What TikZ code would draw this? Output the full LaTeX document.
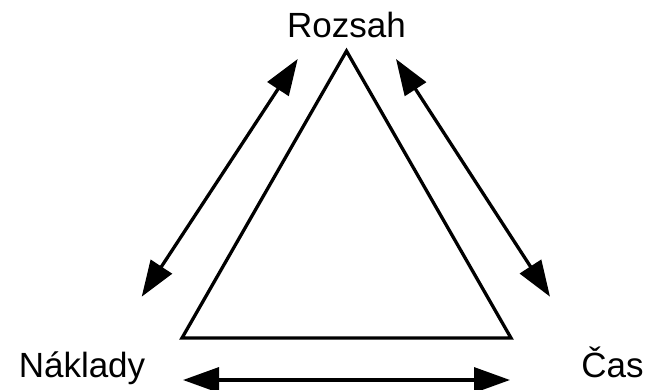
\documentclass[tikz,border=0pt]{standalone}
\usepackage{fontspec}
\setmainfont{Liberation Sans}
\usetikzlibrary{arrows.meta}
\begin{document}
\begin{tikzpicture}[x=1pt,y=-1pt,
  lbl/.style={inner sep=0pt,anchor=base,font=\fontsize{35}{42}\selectfont},
  tri/.style={line width=3.3pt,line join=miter},
  dbl/.style={line width=3.3pt,{Triangle[length=36pt,width=25pt]}-{Triangle[length=36pt,width=25pt]}}]
\useasboundingbox (0,0) rectangle (648,389);
\node[lbl] (rozsah) at (346.5,37) {Rozsah};
\node[lbl] (naklady) at (82,377) {Náklady};
\node[lbl] (cas) at (612.5,377) {Čas};
\coordinate (A) at (346.5,51);
\coordinate (B) at (182,338);
\coordinate (C) at (511,338);
\draw[tri] (A) -- (B) -- (C) -- cycle;
\coordinate (l1) at (297.7,59);
\coordinate (l2) at (141.7,296.7);
\coordinate (r1) at (396,59);
\coordinate (r2) at (550,296.7);
\coordinate (b1) at (183,380);
\coordinate (b2) at (510,380);
\draw[dbl] (l1) -- (l2);
\draw[dbl] (r1) -- (r2);
\draw[dbl] (b1) -- (b2);
\end{tikzpicture}
\end{document}
